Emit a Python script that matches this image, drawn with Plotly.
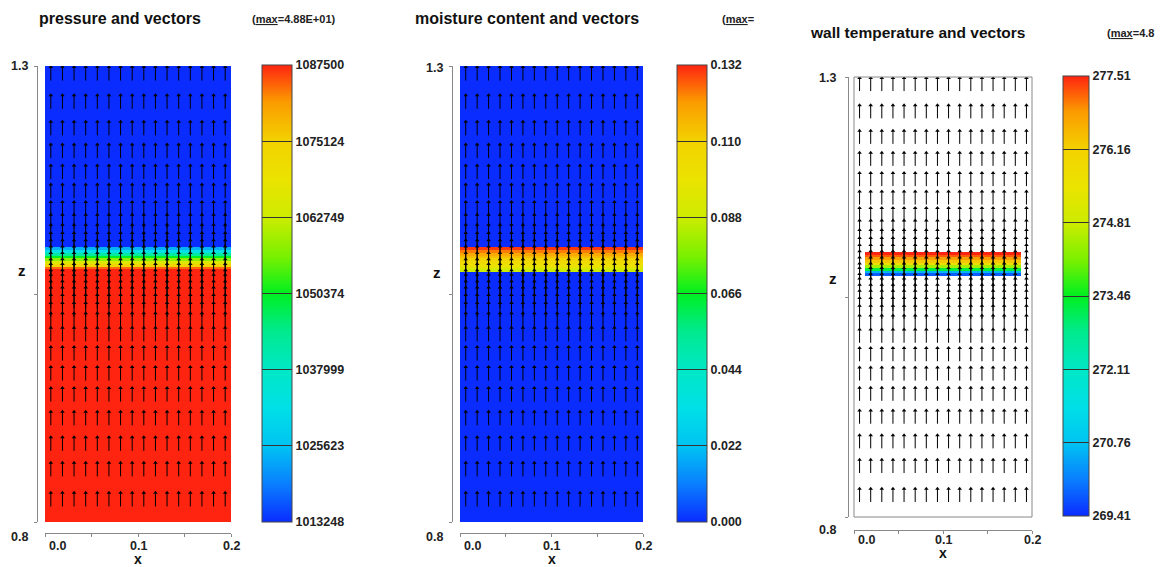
import plotly.graph_objects as go

W, H = 1161, 567

# ---------------- data ----------------
# cell-centre x positions of the mesh columns (also the vector columns)
x_nodes = [0.00625, 0.01875, 0.03125, 0.04375, 0.05625, 0.06875, 0.08125, 0.09375,
           0.10625, 0.11875, 0.13125, 0.14375, 0.15625, 0.16875, 0.18125, 0.19375]

# z edges of the flood rows (band around z ~ 1.075 - 1.10)
z_edges = [0.800, 1.074, 1.077, 1.080, 1.083, 1.086, 1.089, 1.092, 1.095, 1.098, 1.101, 1.300]

pressure_rows = [1087500, 1087500, 1084000, 1074000, 1066000, 1058000,
                 1050000, 1042000, 1032000, 1024000, 1013248]
moisture_rows = [0.000, 0.088, 0.094, 0.100, 0.104, 0.108,
                 0.114, 0.118, 0.124, 0.130, 0.000]
walltemp_rows = [None, 269.80, 270.60, 273.30, 274.50, 275.60,
                 276.30, 276.80, 277.20, 277.51, None]
wall_first_col, wall_last_col = 1, 14   # wall temperature defined on these columns

# vector field: node z positions (tails), uniform upward velocity
vec_z_nodes = [1.284, 1.253, 1.224, 1.199, 1.176, 1.155, 1.136, 1.122, 1.111, 1.102,
               1.094, 1.087, 1.080, 1.073, 1.068, 1.061, 1.056, 1.049, 1.042, 1.034,
               1.025, 1.014, 0.998, 0.977, 0.955, 0.932, 0.906, 0.878, 0.850, 0.817]
vec_u = 0.0
vec_w = 48.8            # max = 4.88E+01
vec_scale = 0.015 / 48.8  # plot units per velocity unit

# colour-bar levels
pressure_levels = [1013248, 1025623, 1037999, 1050374, 1062749, 1075124, 1087500]
moisture_levels = [0.000, 0.022, 0.044, 0.066, 0.088, 0.110, 0.132]
moisture_labels = ["0.000", "0.022", "0.044", "0.066", "0.088", "0.110", "0.132"]
walltemp_levels = [269.41, 270.76, 272.11, 273.46, 274.81, 276.16, 277.51]
walltemp_labels = ["269.41", "270.76", "272.11", "273.46", "274.81", "276.16", "277.51"]

titles = ["pressure and vectors", "moisture content and vectors", "wall temperature and vectors"]
max_labels = ["(<u>max</u>=4.88E+01)", "(<u>max</u>=", "(<u>max</u>=4.8"]
x_tick_vals = [0.0, 0.05, 0.1, 0.15, 0.2]
x_tick_label_vals = [0.0, 0.1, 0.2]
x_tick_labels = ["0.0", "0.1", "0.2"]
y_tick_vals = [0.8, 1.05, 1.3]
y_tick_label_vals = [0.8, 1.3]
y_tick_labels = ["0.8", "1.3"]

# ---------------- styling ----------------
FONT = "Liberation Sans, Arial, sans-serif"
rainbow = [
    [0.0, "#0a2cff"], [0.08, "#0a7cff"], [0.1667, "#00c4f2"], [0.25, "#00e0e6"],
    [0.3333, "#00e8c6"], [0.42, "#00ea8c"], [0.5, "#00f020"], [0.58, "#78f000"],
    [0.6667, "#cdec00"], [0.75, "#ebe300"], [0.8333, "#f3d200"], [0.92, "#fb9a00"],
    [1.0, "#ff2410"],
]


def fx(p):
    return p / W


def fy(p):
    return 1 - p / H


panels = [
    dict(x0=45, x1=231, y0=66, y1=522, yline=37, xline=533, cbx=262, cby0=65, cby1=522, cbw=30,
         title_xy=(37, 18), max_xy=(250, 19), ylab_r=30, y13=66, y08=537, xlab_y=546,
         xtitle_y=559, ztitle_x=22, ztitle_y=270),
    dict(x0=460, x1=643, y0=66, y1=522, yline=452, xline=533, cbx=677, cby0=65, cby1=522, cbw=30,
         title_xy=(413, 18), max_xy=(720, 19), ylab_r=445, y13=68, y08=537, xlab_y=546,
         xtitle_y=559, ztitle_x=437, ztitle_y=272),
    dict(x0=854, x1=1032, y0=77, y1=517, yline=848, xline=530, cbx=1063, cby0=76, cby1=516, cbw=26,
         title_xy=(808, 32), max_xy=(1105, 33), ylab_r=838, y13=78, y08=530, xlab_y=540,
         xtitle_y=553, ztitle_x=833, ztitle_y=278),
]

fields = [pressure_rows, moisture_rows, walltemp_rows]
levels = [pressure_levels, moisture_levels, walltemp_levels]
level_text = [[str(v) for v in pressure_levels], moisture_labels, walltemp_labels]

fig = go.Figure()
layout = dict(
    width=W, height=H, margin=dict(l=0, r=0, t=0, b=0),
    paper_bgcolor="white", plot_bgcolor="white", showlegend=False,
    font=dict(family=FONT, color="#222"),
)
annotations = []
shapes = []

for i, p in enumerate(panels):
    n = "" if i == 0 else str(i + 1)
    xa, ya = "x" + n, "y" + n
    ca = "coloraxis" + n

    # flood field
    rows = fields[i]
    zmat = []
    for v in rows:
        if i == 2:
            zmat.append([v if wall_first_col <= c <= wall_last_col else None
                         for c in range(len(x_nodes))])
        else:
            zmat.append([v] * len(x_nodes))
    fig.add_trace(go.Heatmap(x=x_nodes, y=z_edges, z=zmat, coloraxis=ca,
                             xaxis=xa, yaxis=ya, hoverinfo="skip", zsmooth=False))

    # vectors
    sx, sy, hx, hy = [], [], [], []
    for zz in vec_z_nodes:
        for xx in x_nodes:
            tipx = xx + vec_u * vec_scale
            tipy = zz + vec_w * vec_scale
            sx += [xx, tipx, None]
            sy += [zz, tipy, None]
            hx.append(tipx)
            hy.append(tipy)
    fig.add_trace(go.Scatter(x=sx, y=sy, mode="lines", xaxis=xa, yaxis=ya,
                             line=dict(color="black", width=1), hoverinfo="skip"))
    fig.add_trace(go.Scatter(x=hx, y=hy, mode="markers", xaxis=xa, yaxis=ya,
                             marker=dict(symbol="triangle-up", size=4, color="black"),
                             hoverinfo="skip"))

    # axes
    layout["xaxis" + n] = dict(
        domain=[fx(p["x0"]), fx(p["x1"])], anchor="free", position=fy(p["xline"]),
        range=[0, 0.2], showgrid=False, zeroline=False, showline=True, linecolor="#888",
        linewidth=1, ticks="outside", ticklen=3, tickcolor="#888", tickvals=x_tick_vals,
        showticklabels=False, fixedrange=True,
    )
    layout["yaxis" + n] = dict(
        domain=[fy(p["y1"]), fy(p["y0"])], anchor="free", position=fx(p["yline"]),
        range=[0.8, 1.3], showgrid=False, zeroline=False, showline=True, linecolor="#888",
        linewidth=1, ticks="outside", ticklen=3, tickcolor="#888", tickvals=y_tick_vals,
        showticklabels=False, fixedrange=True,
    )

    # colour bar
    layout[ca] = dict(
        colorscale=rainbow, cmin=levels[i][0], cmax=levels[i][-1],
        colorbar=dict(
            x=fx(p["cbx"]), xanchor="left", xpad=0, y=fy(p["cby0"]), yanchor="top", ypad=0,
            len=p["cby1"] - p["cby0"], lenmode="pixels", thickness=p["cbw"],
            thicknessmode="pixels", outlinewidth=1, outlinecolor="#444",
            tickvals=levels[i], ticktext=level_text[i], ticks="inside", ticklen=p["cbw"],
            tickcolor="#333", tickwidth=1,
            tickfont=dict(family=FONT, size=12.5, color="#222", weight="bold"),
        ),
    )

    # plot frame for the wall-temperature panel
    if i == 2:
        shapes.append(dict(type="rect", xref=xa + " domain", yref=ya + " domain",
                           x0=0, x1=1, y0=0, y1=1, line=dict(color="#888", width=1)))

    # titles
    annotations.append(dict(text=titles[i], xref="paper", yref="paper",
                            x=fx(p["title_xy"][0]), y=fy(p["title_xy"][1]),
                            xanchor="left", yanchor="middle", showarrow=False,
                            font=dict(size=16 if i < 2 else 15.5, color="#111", weight="bold")))
    annotations.append(dict(text=max_labels[i], xref="paper", yref="paper",
                            x=fx(p["max_xy"][0]), y=fy(p["max_xy"][1]),
                            xanchor="left", yanchor="middle", showarrow=False,
                            font=dict(size=11, color="#222", weight="bold")))

    # tick labels
    for v, t in zip(y_tick_label_vals, y_tick_labels):
        ypix = p["y13"] if t == "1.3" else p["y08"]
        annotations.append(dict(text=t, xref="paper", yref="paper",
                                x=fx(p["ylab_r"]), y=fy(ypix), xanchor="right",
                                yanchor="middle", showarrow=False,
                                font=dict(size=12.5, color="#222", weight="bold")))
    for v, t in zip(x_tick_label_vals, x_tick_labels):
        annotations.append(dict(text=t, xref=xa, yref="paper", x=v, y=fy(p["xlab_y"]),
                                xanchor="left" if v == 0 else "center",
                                xshift=2 if v == 0 else 0,
                                yanchor="middle", showarrow=False,
                                font=dict(size=12.5, color="#222", weight="bold")))
    annotations.append(dict(text="x", xref=xa, yref="paper", x=0.1, y=fy(p["xtitle_y"]),
                            xanchor="center", yanchor="middle", showarrow=False,
                            font=dict(size=14, color="#111", weight="bold")))
    annotations.append(dict(text="z", xref="paper", yref="paper", x=fx(p["ztitle_x"]),
                            y=fy(p["ztitle_y"]), xanchor="center", yanchor="middle",
                            showarrow=False, font=dict(size=15, color="#111", weight="bold")))

layout["annotations"] = annotations
layout["shapes"] = shapes
fig.update_layout(**layout)
fig.write_html("out.html")
